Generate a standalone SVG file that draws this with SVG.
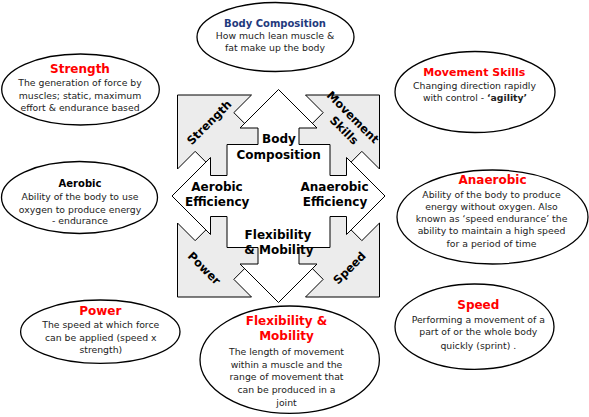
<svg xmlns="http://www.w3.org/2000/svg" width="589" height="417" viewBox="0 0 589 417">
<style>
text{font-family:"DejaVu Sans",Verdana,sans-serif;}
.ell{fill:#fff;stroke:#000;stroke-width:1.3}
.t{font-size:12px;font-weight:bold;fill:#ff0000;text-anchor:middle}
.b{font-size:9.3px;fill:#222;text-anchor:middle}
.c{font-size:12px;font-weight:bold;fill:#000;text-anchor:middle}
.r{font-size:11.5px;font-weight:bold;fill:#000;text-anchor:middle}
.gray{fill:#ececec;stroke:#000;stroke-width:1}
.white{fill:#fff;stroke:#000;stroke-width:1}
</style>
<defs>
<path id="g" d="M-101,-101 L-27,-101 L-44.65,-83.35 L-30.65,-69.35 L-10,-69.35 L-10,-10 L-69.35,-10 L-69.35,-30.65 L-83.35,-44.65 L-101,-27 Z"/>
</defs>
<rect width="589" height="417" fill="#fff"/>
<g id="hub">
<g transform="translate(278.5,196)">
<use href="#g" class="gray"/>
<use href="#g" class="gray" transform="rotate(90)"/>
<use href="#g" class="gray" transform="rotate(180)"/>
<use href="#g" class="gray" transform="rotate(270)"/>
<path class="white" d="M0,-106.5 L38.5,-68 L20.5,-68 L20.5,-51.5 L51.5,-51.5 L51.5,-20.5 L68,-20.5 L68,-38.5 L106.5,0 L68,38.5 L68,20.5 L51.5,20.5 L51.5,51.5 L20.5,51.5 L20.5,68 L38.5,68 L0,106.5 L-38.5,68 L-20.5,68 L-20.5,51.5 L-51.5,51.5 L-51.5,20.5 L-68,20.5 L-68,38.5 L-106.5,0 L-68,-38.5 L-68,-20.5 L-51.5,-20.5 L-51.5,-51.5 L-20.5,-51.5 L-20.5,-68 L-38.5,-68 Z"/>
</g>
<text class="r" transform="translate(209.2,122.5) rotate(-45)" y="4">Strength</text>
<g transform="translate(348.7,123.6) rotate(45)">
<text class="r" x="-1.5" y="-3.5">Movement</text>
<text class="r" x="1.5" y="12">Skills</text>
</g>
<text class="r" transform="translate(204.2,268.3) rotate(45)" y="4">Power</text>
<text class="r" transform="translate(349.5,268) rotate(-45)" y="4">Speed</text>
<text class="c" x="279" y="143.2">Body</text>
<text class="c" x="278.7" y="158.7">Composition</text>
<text class="c" x="217" y="191">Aerobic</text>
<text class="c" x="217.2" y="206.4">Efficiency</text>
<text class="c" x="334.5" y="191">Anaerobic</text>
<text class="c" x="335" y="206.4">Efficiency</text>
<text class="c" x="278" y="238.8">Flexibility</text>
<text class="c" x="279" y="253.8">&amp; Mobility</text>
</g>
<g id="connectors"/>
<g id="body-composition">
<ellipse class="ell" cx="275.5" cy="37" rx="78.5" ry="34.5"/>
<text class="t" x="275" y="27.4" style="font-size:10px;fill:#1f3a7d">Body Composition</text>
<text class="b" x="275" y="39.2">How much lean muscle &amp;</text>
<text class="b" x="275" y="51.3">fat make up the body</text>
</g>
<g id="strength">
<ellipse class="ell" cx="80.5" cy="89.5" rx="78.8" ry="35.5"/>
<text class="t" x="80" y="72.7">Strength</text>
<text class="b" x="80" y="86">The generation of force by</text>
<text class="b" x="80" y="98.5">muscles; static, maximum</text>
<text class="b" x="80" y="111">effort &amp; endurance based</text>
</g>
<g id="movement-skills">
<ellipse class="ell" cx="475" cy="92" rx="80" ry="40.5"/>
<text class="t" x="474.3" y="75.5" style="font-size:11px">Movement Skills</text>
<text class="b" x="474.5" y="88.5">Changing direction rapidly</text>
<text class="b" x="475" y="101.1">with control - <tspan font-weight="bold">‘agility’</tspan></text>
</g>
<g id="aerobic">
<ellipse class="ell" cx="79.5" cy="197.5" rx="78" ry="36"/>
<text class="t" x="80" y="187.3" style="font-size:10px;fill:#000">Aerobic</text>
<text class="b" x="80" y="200.1">Ability of the body to use</text>
<text class="b" x="80" y="212.5">oxygen to produce energy</text>
<text class="b" x="80" y="223.8">- endurance</text>
</g>
<g id="anaerobic">
<ellipse class="ell" cx="492.5" cy="217" rx="95.5" ry="47"/>
<text class="t" x="492.5" y="183.7">Anaerobic</text>
<text class="b" x="491.5" y="197.5">Ability of the body to produce</text>
<text class="b" x="491.5" y="209.5">energy without oxygen.  Also</text>
<text class="b" x="491.5" y="221.8">known as ‘speed endurance’ the</text>
<text class="b" x="491.5" y="234">ability to maintain a high speed</text>
<text class="b" x="491.5" y="246.8">for a period of time</text>
</g>
<g id="power">
<ellipse class="ell" cx="100.3" cy="331.7" rx="79.7" ry="31.7"/>
<text class="t" x="100.3" y="315.4">Power</text>
<text class="b" x="100.8" y="328.3">The speed at which force</text>
<text class="b" x="100.8" y="340.6">can be applied (speed x</text>
<text class="b" x="100.8" y="352.9">strength)</text>
</g>
<g id="flexibility-mobility">
<ellipse class="ell" cx="289.7" cy="359.7" rx="89.7" ry="53.7"/>
<text class="t" x="286.5" y="325.4">Flexibility &amp;</text>
<text class="t" x="286.5" y="340.4">Mobility</text>
<text class="b" x="286.5" y="355.2">The length of movement</text>
<text class="b" x="286.5" y="367.8">within a muscle and the</text>
<text class="b" x="286.5" y="380.4">range of movement that</text>
<text class="b" x="286.5" y="393">can be produced in a</text>
<text class="b" x="286.5" y="405.6">joint</text>
</g>
<g id="speed">
<ellipse class="ell" cx="474.5" cy="326.7" rx="79.5" ry="42.7"/>
<text class="t" x="478.3" y="308.7">Speed</text>
<text class="b" x="478.3" y="322.8">Performing a movement of a</text>
<text class="b" x="478.3" y="335.1">part of or the whole body</text>
<text class="b" x="478.3" y="348.5">quickly (sprint) .</text>
</g>
</svg>
